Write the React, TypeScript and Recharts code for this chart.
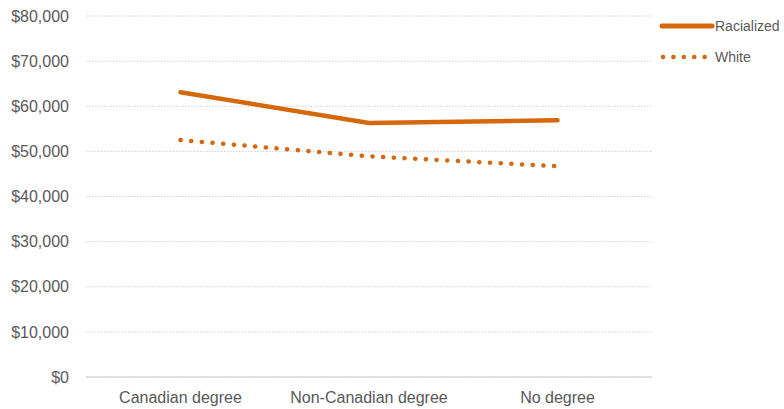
import { LineChart, Line, XAxis, YAxis, CartesianGrid } from "recharts";

// median earnings by education, two groups
const categories = ["Canadian degree", "Non-Canadian degree", "No degree"];
const racialized = [63100, 56300, 56900];
const white = [52500, 48900, 46700];
const yTicks = [0, 10000, 20000, 30000, 40000, 50000, 60000, 70000, 80000];

const ORANGE = "#d5670c";
const FONT = "'Liberation Sans', Arial, sans-serif";

const data = categories.map((name, i) => ({
  name,
  Racialized: racialized[i],
  White: white[i],
}));

const money = (v: number) => "$" + v.toLocaleString("en-US");

function SideLegend() {
  return (
    <div
      style={{
        position: "absolute",
        left: 659,
        top: 16,
        fontFamily: FONT,
        fontSize: 14,
        color: "#595959",
        whiteSpace: "nowrap",
      }}
    >
      <div style={{ display: "flex", alignItems: "center", height: 20 }}>
        <svg width={56} height={8}>
          <line x1={3} y1={4} x2={53} y2={4} stroke={ORANGE} strokeWidth={5} strokeLinecap="round" />
        </svg>
        <span>Racialized</span>
      </div>
      <div style={{ display: "flex", alignItems: "center", height: 20, marginTop: 11 }}>
        <svg width={56} height={8}>
          <line
            x1={4}
            y1={4}
            x2={50}
            y2={4}
            stroke={ORANGE}
            strokeWidth={4.5}
            strokeLinecap="round"
            strokeDasharray="0.1 10.3"
          />
        </svg>
        <span>White</span>
      </div>
    </div>
  );
}

export default function App() {
  return (
    <div style={{ position: "absolute", left: 0, top: 0, width: 784, height: 409, background: "#fff" }}>
      <LineChart
        width={784}
        height={409}
        data={data}
        margin={{ top: 16, right: 132, bottom: 0, left: 0 }}
      >
        <CartesianGrid vertical={false} stroke="#d0d0d0" strokeDasharray="1.5 1.5" />
        <XAxis
          dataKey="name"
          height={32}
          padding={{ left: 94.5, right: 94.5 }}
          tickLine={false}
          axisLine={{ stroke: "#d9d9d9", strokeWidth: 1.5 }}
          tick={{ fill: "#595959", fontSize: 16, fontFamily: FONT }}
          tickMargin={9}
          interval={0}
        />
        <YAxis
          width={86}
          domain={[0, 80000]}
          ticks={yTicks}
          tickFormatter={money}
          tickLine={false}
          axisLine={false}
          tick={{ fill: "#595959", fontSize: 16, fontFamily: FONT }}
          tickMargin={11}
        />
        <Line
          dataKey="Racialized"
          stroke={ORANGE}
          strokeWidth={4.5}
          strokeLinecap="round"
          dot={false}
          activeDot={false}
          isAnimationActive={false}
        />
        <Line
          dataKey="White"
          stroke={ORANGE}
          strokeWidth={4.5}
          strokeLinecap="round"
          strokeDasharray="0.1 10.6"
          dot={false}
          activeDot={false}
          isAnimationActive={false}
        />
      </LineChart>
      <SideLegend />
    </div>
  );
}
